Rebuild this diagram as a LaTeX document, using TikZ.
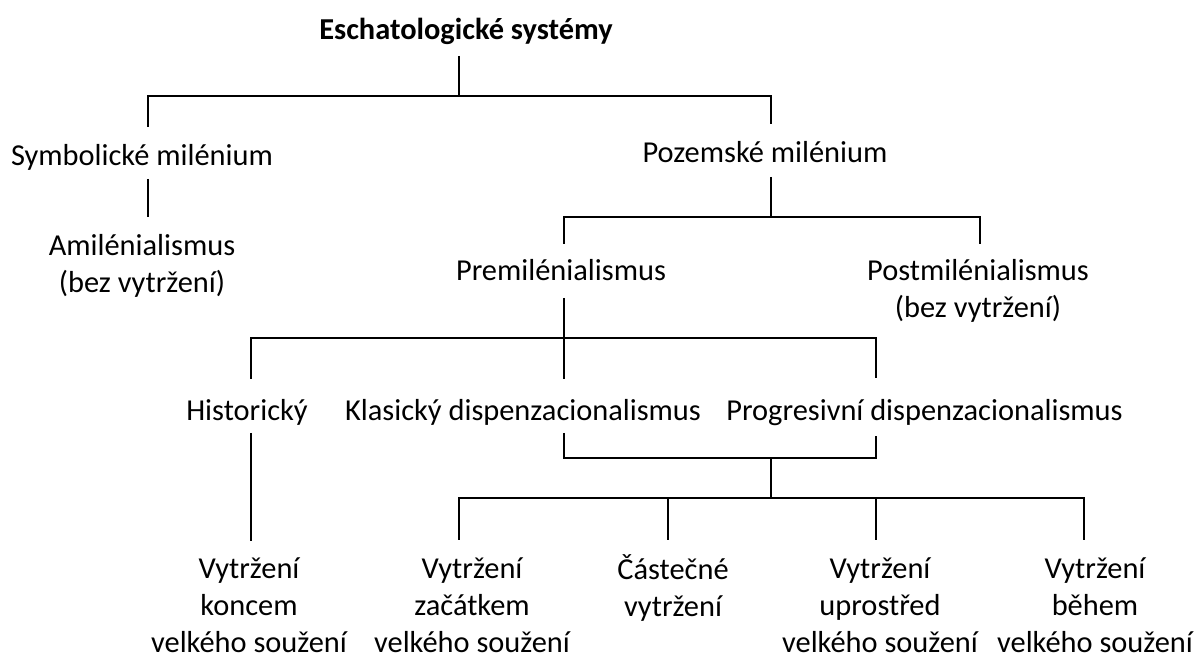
\documentclass[tikz,border=0pt]{standalone}
\usepackage{fontspec}
\setmainfont{Carlito}
\newcommand{\lblfont}{\fontsize{15.2pt}{18.5pt}\selectfont}
\begin{document}
\begin{tikzpicture}[x=0.5pt,y=-0.5pt,
  lbl/.style={font=\lblfont, align=center, inner sep=0pt, anchor=base},
  conn/.style={line width=1.2pt, line cap=butt, line join=miter}]
\useasboundingbox[fill=white] (0,0) rectangle (1200,657);
% nodes (anchor = baseline of the last line)
\node[lbl, font=\lblfont\bfseries] (title) at (466,40) {Eschatologické systémy};
\node[lbl] (symb) at (142,166) {Symbolické milénium};
\node[lbl] (pozem) at (765,163) {Pozemské milénium};
\node[lbl] (amil) at (142,293) {Amilénialismus\\(bez vytržení)};
\node[lbl] (premil) at (561,281) {Premilénialismus};
\node[lbl] (postmil) at (978,318) {Postmilénialismus\\(bez vytržení)};
\node[lbl] (hist) at (247,421) {Historický};
\node[lbl] (klas) at (523,421) {Klasický dispenzacionalismus};
\node[lbl] (prog) at (924.5,421) {Progresivní dispenzacionalismus};
\node[lbl] (konec) at (249,653) {Vytržení\\koncem\\velkého soužení};
\node[lbl] (zacat) at (472,653) {Vytržení\\začátkem\\velkého soužení};
\node[lbl] (castec) at (673,617) {Částečné\\vytržení};
\node[lbl] (uprost) at (880,653) {Vytržení\\uprostřed\\velkého soužení};
\node[lbl] (behem) at (1095,653) {Vytržení\\během\\velkého soužení};
% connector end points and junctions
\coordinate (titleB) at (459,56);
\coordinate (j1) at (459,96);
\coordinate (symbT) at (148,127);
\coordinate (pozemT) at (771,124);
\coordinate (symbB) at (148,179);
\coordinate (amilT) at (148,217);
\coordinate (pozemB) at (771,177);
\coordinate (j2) at (771,217);
\coordinate (premilT) at (564,244);
\coordinate (postmilT) at (980,244);
\coordinate (premilB) at (564,298);
\coordinate (j3) at (564,338);
\coordinate (premilE) at (564,379);
\coordinate (histT) at (251,379);
\coordinate (progT) at (876,378);
\coordinate (histB) at (251,433);
\coordinate (konecT) at (251,541);
\coordinate (klasB) at (564,433);
\coordinate (j4) at (771,458);
\coordinate (progB) at (876,436);
\coordinate (j5) at (771,498);
\coordinate (zacatT) at (459,540);
\coordinate (castecT) at (668,540);
\coordinate (castecJ) at (668,498);
\coordinate (uprostT) at (876,540);
\coordinate (uprostJ) at (876,498);
\coordinate (behemT) at (1084,540);
% connectors
\draw[conn] (titleB) -- (j1);
\draw[conn] (symbT) |- (j1) -| (pozemT);
\draw[conn] (symbB) -- (amilT);
\draw[conn] (pozemB) -- (j2);
\draw[conn] (premilT) |- (j2) -| (postmilT);
\draw[conn] (premilB) -- (premilE);
\draw[conn] (histT) |- (j3) -| (progT);
\draw[conn] (histB) -- (konecT);
\draw[conn] (klasB) |- (j4) -| (progB);
\draw[conn] (j4) -- (j5);
\draw[conn] (zacatT) |- (j5) -| (behemT);
\draw[conn] (castecJ) -- (castecT);
\draw[conn] (uprostJ) -- (uprostT);
\end{tikzpicture}
\end{document}
